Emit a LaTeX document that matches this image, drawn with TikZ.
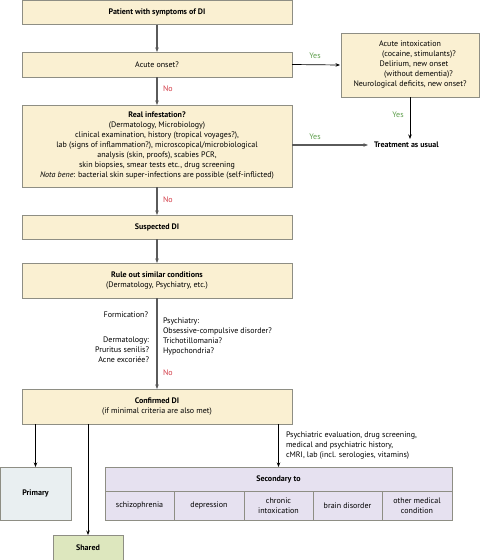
\documentclass[tikz,border=0pt]{standalone}
\usepackage{fontspec}
\setmainfont{PT Sans}
\usetikzlibrary{arrows.meta,calc}
\definecolor{boxy}{HTML}{FAF0D2}
\definecolor{boxline}{HTML}{8E8E84}
\definecolor{primf}{HTML}{E9EFF1}
\definecolor{secf}{HTML}{E6E1F0}
\definecolor{shf}{HTML}{DDE7BE}
\definecolor{nored}{HTML}{D23A45}
\definecolor{yesgreen}{HTML}{5E9E4C}
\definecolor{mainarr}{HTML}{5A5A5A}
\begin{document}
\begin{tikzpicture}[x=1pt,y=-1pt,
  font=\fontsize{8}{10}\selectfont,
  every node/.style={inner sep=0pt,outer sep=0pt},
  ybox/.style={draw=boxline,line width=0.6pt,fill=boxy,minimum width=270pt,align=center},
  cellbox/.style={draw=boxline,line width=0.6pt,align=center},
  mainarrow/.style={draw=mainarr,line width=1.3pt,-{Stealth[length=4.5pt,width=3.5pt]}},
  thinarrow/.style={draw=black,line width=0.7pt,-{Stealth[length=4.5pt,width=3.5pt]}},
  nolab/.style={text=nored,anchor=west},
  yeslab/.style={text=yesgreen},
  sidelab/.style={align=left}
]
\useasboundingbox (0,0) rectangle (480,560);
% main column
\node[ybox,minimum height=24pt] (pat) at (157,12.5) {\textbf{Patient with symptoms of DI}};
\node[ybox,minimum height=25pt] (acute) at (157,64.5) {Acute onset?};
\node[ybox,minimum height=82pt] (real) at (157,146) {\textbf{Real infestation?}\\(Dermatology, Microbiology)\\clinical examination, history (tropical voyages?),\\lab (signs of inflammation?), microscopical/microbiological\\analysis (skin, proofs), scabies PCR,\\skin biopsies, smear tests etc., drug screening\\\textit{Nota bene}: bacterial skin super-infections are possible (self-inflicted)};
\node[ybox,minimum height=24pt] (susp) at (157,227) {\textbf{Suspected DI}};
\node[ybox,minimum height=35pt] (rule) at (157,280.5) {\textbf{Rule out similar conditions}\\(Dermatology, Psychiatry, etc.)};
\node[ybox,minimum height=35pt] (conf) at (157,406.5) {\textbf{Confirmed DI}\\(if minimal criteria are also met)};
% right side
\node[draw=boxline,line width=0.6pt,fill=boxy,minimum width=138pt,minimum height=64pt,align=center] (intox) at (410,65)
 {Acute intoxication\\\hspace*{18pt}(cocaine, stimulants)?\\\hspace*{8pt}Delirium, new onset\\\hspace*{17pt}(without dementia)?\\Neurological deficits, new onset?};
\node[anchor=west] (treat) at (374,145) {\textbf{Treatment as usual}};
\coordinate (treatin) at (410,139);
\coordinate (treatarr) at (368,145);
% bottom boxes
\node[cellbox,fill=primf,minimum width=71pt,minimum height=53pt] (prim) at (35.5,493.5) {\textbf{Primary}};
\node[cellbox,fill=shf,minimum width=70pt,minimum height=25pt] (shared) at (88,547.5) {\textbf{Shared}};
\node[cellbox,fill=secf,minimum width=347pt,minimum height=24pt] (sec) at (278.5,479) {\textbf{Secondary to}};
\node[cellbox,fill=secf,minimum width=69pt,minimum height=29pt] (c1) at (139.5,505.5) {schizophrenia};
\node[cellbox,fill=secf,minimum width=70pt,minimum height=29pt] (c2) at (209,505.5) {depression};
\node[cellbox,fill=secf,minimum width=69pt,minimum height=29pt] (c3) at (278.5,505.5) {chronic\\intoxication};
\node[cellbox,fill=secf,minimum width=69pt,minimum height=29pt] (c4) at (347.5,505.5) {brain disorder};
\node[cellbox,fill=secf,minimum width=70pt,minimum height=29pt] (c5) at (417,505.5) {other medical\\condition};
% side labels
\node[anchor=east] (form) at (148,315) {Formication?};
\node[anchor=east,align=right] (derm) at (149,350) {Dermatology:\\Pruritus senilis?\\Acne excoriée?};
\node[anchor=west,sidelab] (psy) at (163,336) {Psychiatry:\\Obsessive-compulsive disorder?\\Trichotillomania?\\Hypochondria?};
\node[anchor=west,sidelab] (eval) at (286,446) {Psychiatric evaluation, drug screening,\\medical and psychiatric history,\\cMRI, lab (incl. serologies, vitamins)};
% labels yes/no
\node[nolab] (no1) at (163,89) {No};
\node[nolab] (no2) at (163,200) {No};
\node[nolab] (no3) at (163,373) {No};
\node[yeslab] (yes1) at (315,56) {Yes};
\node[yeslab] (yes2) at (398,115) {Yes};
\node[yeslab] (yes3) at (315,137) {Yes};
% arrows
\draw[mainarrow] (pat.south) -- (acute.north);
\draw[mainarrow] (acute.south) -- (real.north);
\draw[mainarrow] (real.south) -- (susp.north);
\draw[mainarrow] (susp.south) -- (rule.north);
\draw[mainarrow] (rule.south) -- (conf.north);
\draw[mainarrow] (real.east |- treatarr) -- (treatarr);
\draw[thinarrow] (acute.east) -- ([xshift=-1pt]intox.west);
\draw[thinarrow] (intox.south) -- (treatin);
\draw[thinarrow] (conf.south -| prim.north) -- (prim.north);
\draw[thinarrow] (conf.south -| shared.north) -- (shared.north);
\draw[thinarrow] (conf.south -| sec.north) -- (sec.north);
\end{tikzpicture}
\end{document}
